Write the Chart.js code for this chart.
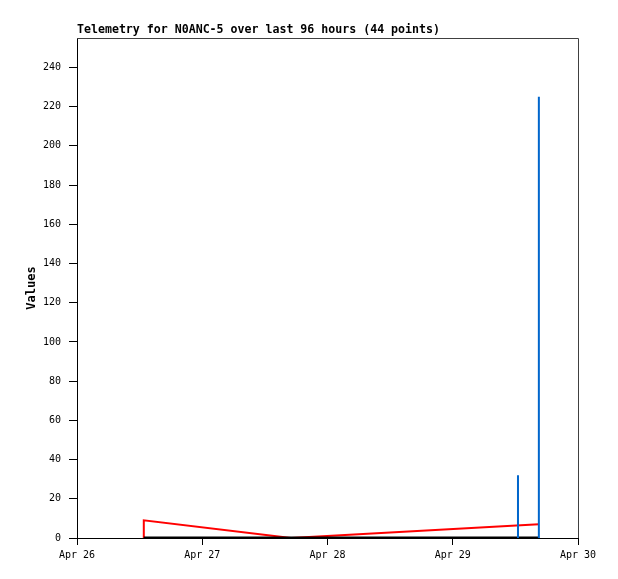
<!DOCTYPE html>
<html>
<head>
<meta charset="utf-8">
<script src="https://cdn.jsdelivr.net/npm/chart.js@4.4.1/dist/chart.umd.min.js"></script>
<style>
html,body{margin:0;padding:0;background:#fff;}
#wrap{width:618px;height:579px;position:relative;}
</style>
</head>
<body>
<div id="wrap"><canvas id="c" width="618" height="579"></canvas></div>
<script>
// Hours since Apr 26 00:00
const xTickHours = [0, 24, 48, 72, 96];
const xTickLabels = ['Apr 26', 'Apr 27', 'Apr 28', 'Apr 29', 'Apr 30'];
const yTicks = [0, 20, 40, 60, 80, 100, 120, 140, 160, 180, 200, 220, 240];

// Red series
const redHours  = [12.8, 12.8, 41.0, 88.5];
const redValues = [0, 9, 0, 7];
// Black series (flat at zero)
const blackHours  = [12.8, 88.5];
const blackValues = [0, 0];
// Blue impulses
const blueHours  = [84.5, 88.5];
const blueValues = [32, 225];

const titleText = 'Telemetry for N0ANC-5 over last 96 hours (44 points)';

function pts(xs, ys){ return xs.map((x,i)=>({x:x, y:ys[i]})); }
function impulses(xs, ys){
  const out = [];
  xs.forEach((x,i)=>{ out.push({x:x,y:0}); out.push({x:x,y:ys[i]}); out.push({x:x,y:null}); });
  return out;
}

const frame = {
  id: 'frame',
  afterDatasetsDraw(chart){
    const {ctx, chartArea:a} = chart;
    ctx.save();
    ctx.strokeStyle = '#404040';
    ctx.lineWidth = 1;
    ctx.beginPath();
    ctx.moveTo(a.left, a.top + 0.5);
    ctx.lineTo(a.right + 0.5, a.top + 0.5);
    ctx.lineTo(a.right + 0.5, a.bottom);
    ctx.stroke();
    ctx.restore();
  },
  afterDraw(chart){
    const {ctx, chartArea:a} = chart;
    ctx.save();
    ctx.fillStyle = '#000';
    ctx.font = 'bold 11.6px "DejaVu Sans Mono", monospace';
    ctx.textBaseline = 'alphabetic';
    ctx.textAlign = 'left';
    ctx.fillText(titleText, a.left, 33);
    ctx.restore();
  }
};

new Chart(document.getElementById('c'), {
  type: 'line',
  data: {
    datasets: [
      { label: 'blue', data: impulses(blueHours, blueValues), borderColor: '#0066cc', borderWidth: 2, pointRadius: 0, spanGaps: false, order: 1, tension: 0 },
      { label: 'black', data: pts(blackHours, blackValues), borderColor: '#000000', borderWidth: 3, pointRadius: 0, order: 2, tension: 0 },
      { label: 'red', data: pts(redHours, redValues), borderColor: '#ff0000', borderWidth: 2, pointRadius: 0, order: 3, tension: 0 }
    ]
  },
  options: {
    responsive: false,
    animation: false,
    events: [],
    layout: { padding: { top: 38, right: 40, left: 0, bottom: 0 } },
    plugins: { legend: { display: false }, tooltip: { enabled: false }, title: { display: false } },
    scales: {
      x: {
        type: 'linear',
        min: 0, max: 96,
        afterFit(s){ s.height = 41; },
        afterBuildTicks(s){ s.ticks = xTickHours.map(v=>({value:v})); },
        border: { display: true, color: '#000', width: 1 },
        grid: { display: true, drawOnChartArea: false, drawTicks: true, tickLength: 7, color: '#000' },
        ticks: {
          autoSkip: false, maxRotation: 0, padding: 4, color: '#000',
          font: { family: '"DejaVu Sans Mono", monospace', size: 10 },
          callback(v){ const i = xTickHours.indexOf(v); return i >= 0 ? xTickLabels[i] : ''; }
        }
      },
      y: {
        type: 'linear',
        min: 0, max: 255,
        afterFit(s){ s.width = 77; },
        afterBuildTicks(s){ s.ticks = yTicks.map(v=>({value:v})); },
        border: { display: true, color: '#000', width: 1 },
        grid: { display: true, drawOnChartArea: false, drawTicks: true, tickLength: 8, color: '#000' },
        ticks: {
          autoSkip: false, padding: 8, color: '#000',
          font: { family: '"DejaVu Sans Mono", monospace', size: 10 },
          callback(v){ return String(v); }
        },
        title: {
          display: true, text: 'Values', color: '#000',
          font: { family: '"DejaVu Sans Mono", monospace', size: 12, weight: 'bold' },
          padding: { top: 25, bottom: 0 }
        }
      }
    }
  },
  plugins: [frame]
});
</script>
</body>
</html>
